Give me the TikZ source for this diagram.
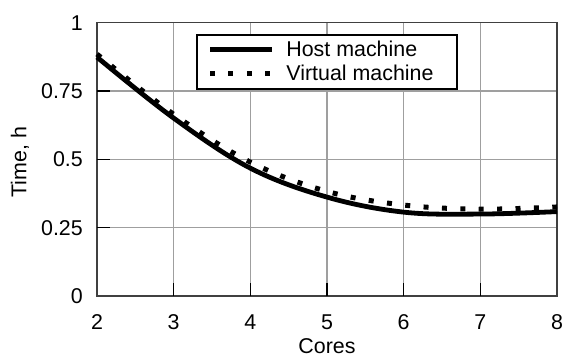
\documentclass[tikz,border=0pt]{standalone}
\usepackage{fontspec}
\setmainfont{Liberation Sans}

\tikzset{
  gridline/.style={gray!75,line width=0.6pt},
  frameline/.style={black!75,line width=0.8pt},
  tickline/.style={black,line width=0.6pt},
  hostline/.style={line width=2.4pt},
  vmline/.style={line width=2.5pt,dash pattern=on 2.5pt off 6.7pt},
  ticklabel/.style={inner sep=0pt}
}

\begin{document}
\begin{tikzpicture}[x=38.33pt,y=136.67pt,font=\fontsize{10.7}{12.8}\selectfont]

  \useasboundingbox (0.735,-0.2195) rectangle (8.078,1.083);

  % grid and frame
  \foreach \x in {3,...,7} \draw[gridline] (\x,0) -- (\x,1);
  \foreach \y in {0.25,0.5,0.75} \draw[gridline] (2,\y) -- (8,\y);
  \draw[frameline] (2,0) rectangle (8,1);
  \foreach \x in {3,...,7} \draw[tickline] (\x,0) -- (\x,0.0476);
  \foreach \y in {0.25,0.5,0.75} \draw[tickline] (2,\y) -- (2.17,\y);

  % tick labels
  \foreach \x in {2,...,8}
    \node[ticklabel] (xl\x) at (\x,-0.094) {\x};
  \foreach \y/\t [count=\i] in {0/0,0.25/0.25,0.5/0.5,0.75/0.75,1/1}
    \node[ticklabel,anchor=east] (yl\i) at (1.82,\y) {\t};

  \node (xlabel) at (5,-0.183) {Cores};
  \node[rotate=90] (ylabel) at (0.996,0.49) {Time, h};

  % curves
  \draw[hostline] plot[smooth,tension=0.6] coordinates
    {(2,0.874) (3,0.651) (4,0.468) (5,0.362) (6,0.307) (7,0.300) (8,0.309)};
  \draw[vmline] plot[smooth,tension=0.6] coordinates
    {(2,0.885) (3,0.665) (4,0.490) (5,0.383) (6,0.333) (7,0.318) (8,0.326)};

  % legend
  \node[draw,line width=1pt,fill=white,minimum width=130.3pt,minimum height=27.2pt,
        inner sep=0pt] (legend) at (5.0,0.8555) {};
  \coordinate (hs) at (3.474,0.903);
  \coordinate (he) at (4.279,0.903);
  \coordinate (vs) at (3.474,0.815);
  \coordinate (ve) at (4.330,0.815);
  \draw[hostline] (hs) -- (he);
  \draw[vmline] (vs) -- (ve);
  \node[ticklabel,anchor=west] (hostlbl) at (4.465,0.903) {Host machine};
  \node[ticklabel,anchor=west] (vmlbl) at (4.465,0.815) {Virtual machine};

\end{tikzpicture}
\end{document}
